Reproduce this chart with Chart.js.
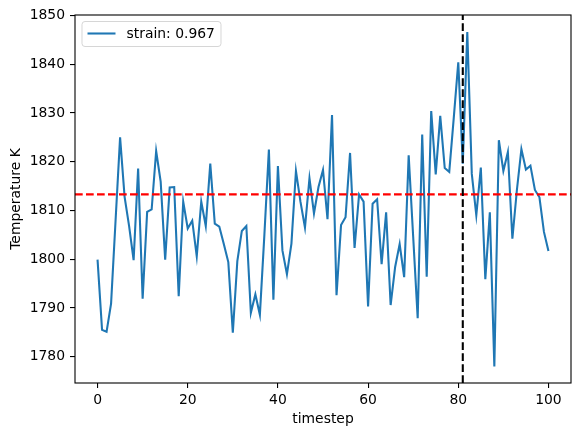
<!DOCTYPE html>
<html>
<head>
<meta charset="utf-8">
<script src="https://cdn.jsdelivr.net/npm/chart.js@4.4.1/dist/chart.umd.min.js"></script>
<style>
  html, body { margin: 0; padding: 0; background: #fff; }
  #wrap { width: 581px; height: 437px; }
</style>
</head>
<body>
<div id="wrap"><canvas id="tempChart" width="581" height="437"></canvas></div>
<script>
// temperature per timestep
var temperature = [
    1799.9, 1785.5, 1785.1, 1790.9, 1808.0, 1825.0, 1812.8, 1806.8, 1799.8, 1818.6,
    1791.9, 1809.7, 1810.2, 1822.2, 1815.9, 1799.9, 1814.7, 1814.8, 1792.4, 1811.8,
    1806.3, 1807.9, 1800.6, 1811.8, 1806.8, 1819.6, 1807.3, 1806.7, 1803.1, 1799.4,
    1784.9, 1799.6, 1805.8, 1806.8, 1789.0, 1792.8, 1788.6, 1805.0, 1822.5, 1791.7,
    1819.1, 1801.8, 1796.9, 1803.2, 1818.1, 1811.8, 1806.5, 1816.6, 1809.4, 1814.8,
    1818.3, 1808.2, 1829.6, 1792.6, 1807.0, 1808.6, 1821.8, 1802.3, 1813.3, 1811.8,
    1790.3, 1811.4, 1812.3, 1799.0, 1809.6, 1790.6, 1798.4, 1803.1, 1796.3, 1821.3,
    1804.6, 1787.9, 1825.6, 1796.4, 1830.4, 1817.4, 1829.4, 1818.7, 1817.9, 1829.0,
    1840.4, 1819.6, 1846.6, 1817.5, 1809.0, 1818.8, 1795.9, 1809.6, 1778.0, 1824.4,
    1818.1, 1822.0, 1804.2, 1814.2, 1822.6, 1818.4, 1819.2, 1814.2, 1812.7, 1805.6,
    1801.7
];
var timesteps = temperature.map(function (t, i) { return i; });

var seriesLabel = 'strain: 0.967';
var meanTemp = 1813.3;      // red dashed line
var markerStep = 81;        // black dashed line

var xTicks = [0, 20, 40, 60, 80, 100];
var yTicks = [1780, 1790, 1800, 1810, 1820, 1830, 1840, 1850];
var xRange = [-5, 105];
var yRange = [1774.6, 1850.1];

var font = { family: 'DejaVu Sans', size: 13.9 };
var lw = 2.08;              // 1.5pt at 100dpi
var dash = [7.7, 3.3];

var lineData = timesteps.map(function (t, i) { return { x: t, y: temperature[i] }; });

// spines + legend box like matplotlib
var framePlugin = {
    id: 'frame',
    afterDraw: function (chart) {
        var ctx = chart.ctx, a = chart.chartArea;
        ctx.save();
        ctx.strokeStyle = '#000';
        ctx.lineWidth = 1.1;
        ctx.strokeRect(a.left, a.top, a.right - a.left, a.bottom - a.top);

        var bx = a.left + 7, by = a.top + 6.5, bw = 139, bh = 25, r = 3;
        ctx.beginPath();
        ctx.moveTo(bx + r, by);
        ctx.arcTo(bx + bw, by, bx + bw, by + bh, r);
        ctx.arcTo(bx + bw, by + bh, bx, by + bh, r);
        ctx.arcTo(bx, by + bh, bx, by, r);
        ctx.arcTo(bx, by, bx + bw, by, r);
        ctx.closePath();
        ctx.fillStyle = 'rgba(255,255,255,0.8)';
        ctx.fill();
        ctx.lineWidth = 1;
        ctx.strokeStyle = 'rgba(204,204,204,0.8)';
        ctx.stroke();

        var cy = by + 12;
        ctx.beginPath();
        ctx.moveTo(bx + 5.5, cy);
        ctx.lineTo(bx + 33.5, cy);
        ctx.strokeStyle = '#1f77b4';
        ctx.lineWidth = lw;
        ctx.stroke();

        ctx.fillStyle = '#000';
        ctx.font = '13.9px "DejaVu Sans"';
        ctx.textBaseline = 'middle';
        ctx.textAlign = 'left';
        ctx.fillText(seriesLabel, bx + 44.5, cy + 0.5);
        ctx.restore();
    }
};

var ctx = document.getElementById('tempChart').getContext('2d');
var tempChart = new Chart(ctx, {
    type: 'scatter',
    data: {
        datasets: [{
            label: seriesLabel,
            data: lineData,
            showLine: true,
            borderColor: '#1f77b4',
            borderWidth: lw,
            pointRadius: 0,
            tension: 0,
            order: 3
        }, {
            label: 'mean',
            data: [{ x: xRange[0], y: meanTemp }, { x: xRange[1], y: meanTemp }],
            showLine: true,
            borderColor: '#ff0000',
            borderWidth: lw,
            borderDash: dash,
            pointRadius: 0,
            order: 2
        }, {
            label: 'step',
            data: [{ x: markerStep, y: yRange[0] }, { x: markerStep, y: yRange[1] }],
            showLine: true,
            borderColor: '#000000',
            borderWidth: lw,
            borderDash: dash,
            pointRadius: 0,
            order: 1
        }]
    },
    options: {
        responsive: false,
        animation: false,
        layout: { padding: { left: 0, top: 15, right: 10, bottom: 0 } },
        plugins: {
            legend: { display: false },
            tooltip: { enabled: false }
        },
        scales: {
            x: {
                type: 'linear',
                min: xRange[0],
                max: xRange[1],
                afterBuildTicks: function (scale) {
                    scale.ticks = xTicks.map(function (v) { return { value: v }; });
                },
                afterFit: function (scale) { scale.height = 54; },
                grid: { drawOnChartArea: false, tickLength: 5, tickColor: '#000', lineWidth: 1.1 },
                border: { display: false },
                ticks: {
                    color: '#000', font: font, padding: 4, maxRotation: 0,
                    callback: function (v) { return String(v); }
                },
                title: {
                    display: true, text: 'timestep', color: '#000', font: font,
                    padding: { top: 0, bottom: 9.4 }
                }
            },
            y: {
                type: 'linear',
                min: yRange[0],
                max: yRange[1],
                afterBuildTicks: function (scale) {
                    scale.ticks = yTicks.map(function (v) { return { value: v }; });
                },
                afterFit: function (scale) { scale.width = 75; },
                grid: { drawOnChartArea: false, tickLength: 5, tickColor: '#000', lineWidth: 1.1 },
                border: { display: false },
                ticks: {
                    color: '#000', font: font, padding: 5,
                    callback: function (v) { return String(v); }
                },
                title: {
                    display: true, text: 'Temperature K', color: '#000', font: font,
                    padding: { top: 7.7, bottom: 0 }
                }
            }
        }
    },
    plugins: [framePlugin]
});
</script>
</body>
</html>
